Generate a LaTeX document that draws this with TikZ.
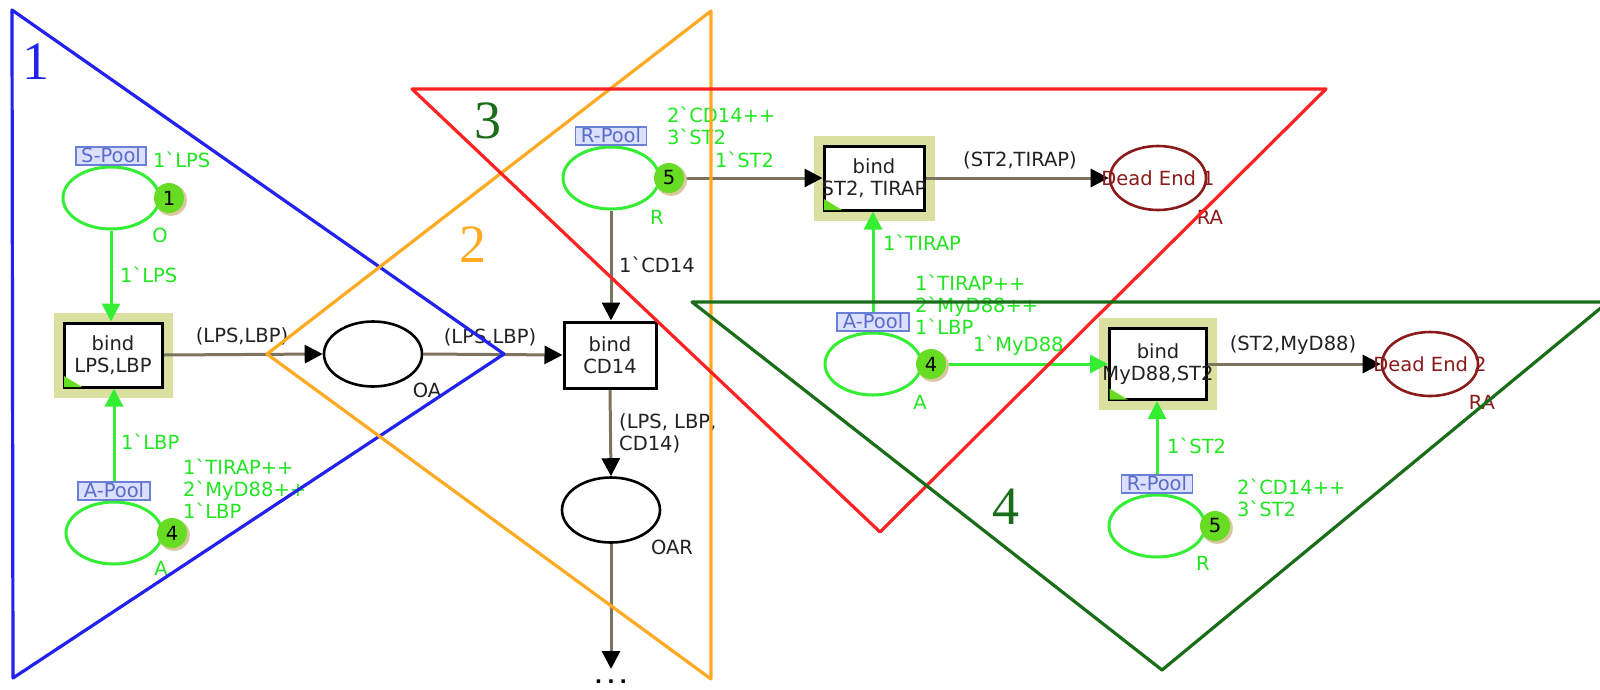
\documentclass[tikz,border=0pt]{standalone}
\usepackage{fontspec}
\setmainfont{DejaVu Sans}
\newfontfamily\numfont{Liberation Serif}
\usetikzlibrary{arrows.meta,shapes.geometric,shadows}
\pgfdeclarelayer{back}
\pgfdeclarelayer{hl}
\pgfdeclarelayer{arcs}
\pgfsetlayers{back,hl,arcs,main}
\definecolor{poolgreen}{HTML}{33EE33}
\definecolor{labgreen}{HTML}{22E622}
\definecolor{tokgreen}{HTML}{66DD22}
\definecolor{tokshadow}{HTML}{D8C8A0}
\definecolor{arcgray}{HTML}{7D735F}
\definecolor{hilite}{HTML}{D9E0A0}
\definecolor{lblfill}{HTML}{DCE0FF}
\definecolor{lbldraw}{HTML}{6A7FD6}
\definecolor{lbltext}{HTML}{5A6CC8}
\definecolor{deadred}{HTML}{8B1A1A}
\definecolor{triblue}{HTML}{2222EE}
\definecolor{triorange}{HTML}{FFAA22}
\definecolor{trired}{HTML}{FF2222}
\definecolor{trigreen}{HTML}{1A6E1A}
\definecolor{inkblack}{HTML}{222222}
\newcommand{\gq}{\textasciigrave}
\tikzset{
  every node/.style={font=\fontsize{19.5}{22}\selectfont},
  pool/.style={ellipse, draw=poolgreen, line width=3pt, fill=white, minimum width=96pt, minimum height=62pt, inner sep=0pt},
  plainplace/.style={ellipse, draw=black, line width=2.6pt, fill=white, minimum width=98pt, minimum height=65pt, inner sep=0pt},
  deadend/.style={ellipse, draw=deadred, line width=2.6pt, fill=white, minimum width=96pt, minimum height=64pt, inner sep=0pt},
  deadtext/.style={text=deadred, inner sep=0pt},
  trans/.style={rectangle, draw=black, line width=3pt, fill=white, inner sep=0pt},
  ttext/.style={align=center, text=inkblack, inner sep=0pt},
  token/.style={circle, fill=tokgreen, minimum size=30pt, inner sep=0pt, text=black,
    drop shadow={shadow xshift=2pt, shadow yshift=-2pt, shadow scale=1.05, fill=tokshadow, opacity=1}},
  namebox/.style={rectangle, fill=lblfill, draw=lbldraw, line width=1.8pt, text=lbltext,
    inner xsep=5.5pt, inner ysep=1pt, text height=14.5pt, text depth=1.5pt, anchor=south},
  glab/.style={text=labgreen, inner sep=0pt, anchor=west, align=left},
  gtxt/.style={text=labgreen, inner sep=0pt},
  blab/.style={text=inkblack, inner sep=0pt},
  garc/.style={draw=poolgreen, line width=3pt, -{Triangle[length=18pt,width=18pt,color=poolgreen]}},
  karc/.style={draw=arcgray, line width=3pt, -{Triangle[length=18pt,width=18pt,color=black]}},
  tri/.style={line width=3.2pt, line join=round},
  bignum/.style={font=\numfont\fontsize{54}{54}\selectfont, inner sep=0pt}
}
\begin{document}
\begin{tikzpicture}[x=1pt,y=-1pt]
\useasboundingbox (0,0) rectangle (1600,689);
\begin{pgfonlayer}{back}
\fill[white] (0,0) rectangle (1600,689);
\end{pgfonlayer}

% transitions
\node[trans, minimum width=98pt, minimum height=64pt, label={[ttext]center:bind\\LPS,LBP}] (t1) at (113,355) {};
\node[trans, minimum width=92pt, minimum height=66pt, label={[ttext]center:bind\\CD14}] (cd14) at (610,355) {};
\node[trans, minimum width=100pt, minimum height=64pt, label={[ttext]center:bind\\\makebox[0pt]{ST2, TIRAP}}] (t2) at (874,178) {};
\node[trans, minimum width=97pt, minimum height=71pt, label={[ttext]center:bind\\\makebox[0pt]{MyD88,ST2}}] (t3) at (1158,364) {};

% highlights
\begin{pgfonlayer}{hl}
\foreach \t in {t1,t2,t3}{
  \fill[hilite] ([shift={(-9,9)}]\t.south west) rectangle ([shift={(9,-9)}]\t.north east);
}
\end{pgfonlayer}
% corner marks
\foreach \t in {t1,t2,t3}{
  \fill[tokgreen] ([shift={(1.5,-1.5)}]\t.south west) -- ++(0,-11) -- ++(18,11) -- cycle;
}

% places
\node[pool] (spool) at (111,198) {};
\node[pool] (apool1) at (114,533) {};
\node[pool] (rpool1) at (611,178) {};
\node[pool] (apool2) at (873,364) {};
\node[pool] (rpool2) at (1157,526) {};
\node[plainplace] (oa) at (373,354) {};
\node[plainplace] (oar) at (611,510) {};
\node[deadend, label={[deadtext]center:Dead End 1}] (d1) at (1158,178) {};
\node[deadend, label={[deadtext]center:Dead End 2}] (d2) at (1430,364) {};
\node[anchor=north, inner sep=0pt, text=black] (dots) at (611,680) {\textbf{.\hspace{5pt}.\hspace{5pt}.}};

% arcs
\begin{pgfonlayer}{arcs}
\draw[garc] (spool.south) -- (spool.south |- t1.north);
\draw[garc] (apool1.north) -- (apool1.north |- t1.south);
\draw[karc] (t1.east) -- (oa.west);
\draw[karc] (oa.east) -- (cd14.west);
\draw[karc] (rpool1.south) -- (rpool1.south |- cd14.north);
\draw[karc] (rpool1.east) -- (t2.west);
\draw[karc] (t2.east) -- (d1.west);
\draw[garc] (apool2.north) -- (apool2.north |- t2.south);
\draw[garc] (apool2.east) -- (t3.west);
\draw[karc] (t3.east) -- (d2.west);
\draw[garc] (rpool2.north) -- (rpool2.north |- t3.south);
\draw[karc] (cd14.south) -- (oar.north);
\draw[karc] (oar.south) -- ([yshift=11pt]dots.north);
\end{pgfonlayer}

% tokens
\node[token] (tk1) at ([xshift=8.5pt]spool.east) {1};
\node[token] (tk2) at ([xshift=8.5pt]apool1.east) {4};
\node[token] (tk3) at ([xshift=8.5pt]rpool1.east) {5};
\node[token] (tk4) at ([xshift=8.5pt]apool2.east) {4};
\node[token] (tk5) at ([xshift=8.5pt]rpool2.east) {5};

% name boxes
\node[namebox] (n1) at (spool.north) {S-Pool};
\node[namebox] (n2) at (apool1.north) {A-Pool};
\node[namebox] (n3) at (rpool1.north) {R-Pool};
\node[namebox] (n4) at (apool2.north) {A-Pool};
\node[namebox] (n5) at (rpool2.north) {R-Pool};

% green labels
\node[glab] (m1) at (153,160) {1\gq LPS};
\node[gtxt] (c1) at (160,235) {O};
\node[glab] (a1) at (120,275) {1\gq LPS};
\node[glab] (a2) at (121,442) {1\gq LBP};
\node[glab] (m2) at (183,489) {1\gq TIRAP++\\2\gq MyD88++\\1\gq LBP};
\node[gtxt] (c2) at (161,568) {A};
\node[glab] (m3) at (667,126) {2\gq CD14++\\3\gq ST2};
\node[glab] (a3) at (715,160) {1\gq ST2};
\node[gtxt] (c3) at (657,217) {R};
\node[glab] (a4) at (883,243) {1\gq TIRAP};
\node[glab] (m4) at (915,305) {1\gq TIRAP++\\2\gq MyD88++\\1\gq LBP};
\node[glab] (a5) at (973,346) {1\gq MyD88};
\node[gtxt] (c4) at (920,402) {A};
\node[glab] (a6) at (1167,446) {1\gq ST2};
\node[glab] (m5) at (1237,498) {2\gq CD14++\\3\gq ST2};
\node[gtxt] (c5) at (1203,563) {R};

% black labels
\node[blab] (b1) at (242,336) {(LPS,LBP)};
\node[blab] (b2) at (490,337) {(LPS,LBP)};
\node[blab] (c6) at (427,390) {OA};
\node[blab, anchor=west] (b3) at (619,265) {1\gq CD14};
\node[blab, anchor=west, align=left] (b4) at (619,433) {(LPS, LBP,\\CD14)};
\node[blab] (c7) at (672,547) {OAR};
\node[blab] (b5) at (1020,160) {(ST2,TIRAP)};
\node[blab] (b6) at (1293,345) {(ST2,MyD88)};
\node[deadtext] (r1) at (1210,217) {RA};
\node[deadtext] (r2) at (1482,402) {RA};

% region triangles
\draw[tri, triblue] (12,10) -- (504,354) -- (13,678) -- cycle;
\draw[tri, triorange] (267,354) -- (711,11) -- (711,679) -- cycle;
\draw[tri, trired] (412,89) -- (1326,89) -- (880,532) -- cycle;
\draw[tri, trigreen] (692,302) -- (1608,302) -- (1162,670) -- cycle;
\node[bignum, text=triblue] (z1) at (36,62) {1};
\node[bignum, text=triorange] (z2) at (473,245) {2};
\node[bignum, text=trigreen] (z3) at (488,121) {3};
\node[bignum, text=trigreen] (z4) at (1006,507) {4};
\end{tikzpicture}
\end{document}
